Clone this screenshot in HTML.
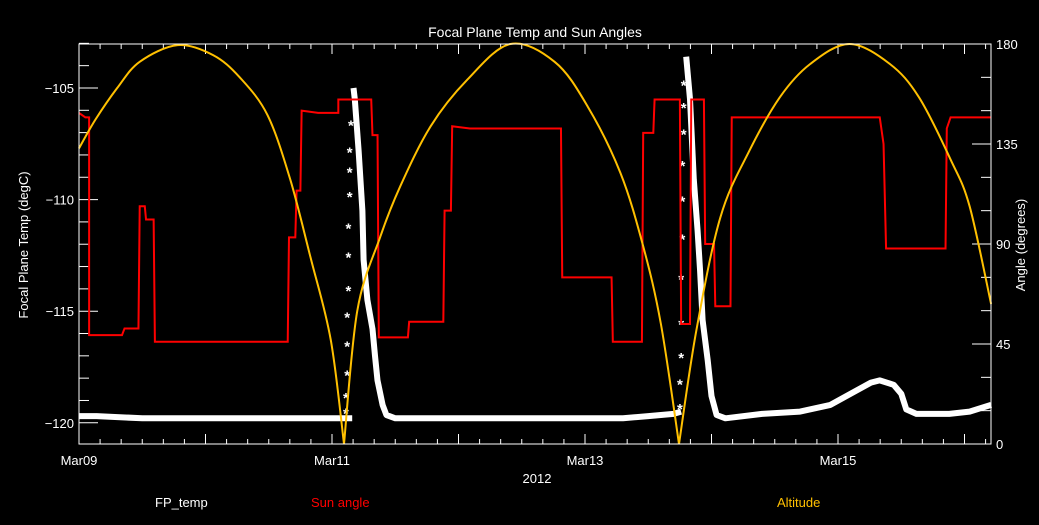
<!DOCTYPE html>
<html><head><meta charset="utf-8"><style>
html,body{margin:0;padding:0;background:#000;}
svg{display:block;font-family:"Liberation Sans",sans-serif;}
</style></head><body>
<svg id="chart" width="1039" height="525" viewBox="0 0 1039 525" xmlns="http://www.w3.org/2000/svg">
<rect width="1039" height="525" fill="#000"/>
<text x="535" y="37" fill="#fff" font-size="14" text-anchor="middle">Focal Plane Temp and Sun Angles</text>
<text x="537" y="483" fill="#fff" font-size="13" text-anchor="middle">2012</text>
<text transform="translate(28,245) rotate(-90)" fill="#fff" font-size="13" text-anchor="middle">Focal Plane Temp (degC)</text>
<text transform="translate(1025,245) rotate(-90)" fill="#fff" font-size="13" text-anchor="middle">Angle (degrees)</text>
<text x="155" y="507" fill="#fff" font-size="13">FP_temp</text>
<text x="311" y="507" fill="#ff0000" font-size="13">Sun angle</text>
<text x="777" y="507" fill="#ffc000" font-size="13">Altitude</text>
<g id="axes"></g>
<g id="series"></g>
<rect x="79" y="44" width="912" height="400" fill="none" stroke="#fff" stroke-width="1"/>
</svg>
<script>
const xTickDays = [0, 2, 4, 6];
const xTickLabels = ["Mar09", "Mar11", "Mar13", "Mar15"];
const yTicks = [-120, -115, -110, -105];
const y2Ticks = [0, 45, 90, 135, 180];
// Sun angle (red) : day offsets from Mar09 and degrees
const sunDays = [0,0.05,0.08,0.08,0.34,0.36,0.47,0.48,0.52,0.53,0.59,0.60,1.65,1.66,1.71,1.72,1.75,1.76,1.89,2.05,2.05,2.31,2.32,2.36,2.37,2.60,2.61,2.88,2.89,2.94,2.95,3.09,3.81,3.82,4.21,4.22,4.45,4.46,4.54,4.55,4.75,4.76,4.83,4.84,4.94,4.95,5.02,5.03,5.15,5.16,6.33,6.36,6.38,6.85,6.86,6.89,7.21];
const sunDeg = [149,147,147,49,49,52,52,107,107,101,101,46,46,93,93,114,114,150,149,149,155,155,139,139,48,48,55,55,105,105,143,142,142,75,75,46,46,140,140,155,155,54,54,155,155,90,90,62,62,147,147,135,88,88,142,147,147];
// Altitude (orange)
const altDays = [0,0.13,0.30,0.48,0.78,1.06,1.27,1.49,1.67,1.83,1.99,2.095,2.20,2.38,2.54,2.78,3.07,3.41,3.76,4.02,4.28,4.46,4.60,4.743,4.88,5.07,5.30,5.54,5.78,6.09,6.41,6.64,6.89,7.04,7.21];
const altDeg = [133,146,160,172,179.5,175,165,148,119,84,47,0,60,93,116,143,164,180,172,152,122,89,54,0,51,102,132,156,171,180,171,156,128,107,63];
// FP temp (white), left axis
const fpDays = [0,0.14,0.5,1.0,1.5,2.0,2.16,2.17,2.18,2.21,2.24,2.25,2.28,2.32,2.34,2.36,2.40,2.43,2.5,3.0,3.5,4.0,4.3,4.5,4.7,4.76,4.80,4.83,4.86,4.89,4.91,4.93,4.97,5.00,5.04,5.11,5.4,5.7,5.94,6.1,6.26,6.33,6.44,6.5,6.54,6.62,6.88,7.04,7.21];
const fpTemp = [-119.7,-119.7,-119.8,-119.8,-119.8,-119.8,-119.8,-105.0,-105.5,-107.8,-110.5,-112.7,-114.5,-115.8,-117.0,-118.1,-119.2,-119.65,-119.8,-119.8,-119.8,-119.8,-119.8,-119.7,-119.6,-119.5,-103.6,-105.5,-109.1,-111.4,-113.2,-115.4,-117.2,-118.8,-119.65,-119.8,-119.6,-119.5,-119.2,-118.7,-118.2,-118.1,-118.3,-118.7,-119.4,-119.6,-119.6,-119.5,-119.2];
// sparse rising stars (before each spike)
const starDays = [2.11,2.11,2.12,2.12,2.12,2.13,2.13,2.13,2.14,2.14,2.14,2.15,4.75,4.75,4.76,4.76,4.76,4.77,4.77,4.77,4.78,4.78,4.78];
const starTemp = [-119.5,-118.8,-117.8,-116.5,-115.2,-114.0,-112.5,-111.2,-109.8,-108.7,-107.8,-106.6,-119.3,-118.2,-117.0,-115.5,-113.5,-111.7,-110.0,-108.4,-107.0,-105.8,-104.8];

const X0=79, X1=991, Y0=44, Y1=444, DAYS=(991-79)/126.5;
const xs = d => X0 + d/DAYS*(X1-X0);
const yT = t => Y1 - (t-(-120.95))/((-103.03)-(-120.95))*(Y1-Y0);
const yA = a => Y1 - a/180*(Y1-Y0);
const NS="http://www.w3.org/2000/svg";
const axes=document.getElementById('axes'), ser=document.getElementById('series');
function mk(tag, attrs, parent){const e=document.createElementNS(NS,tag);for(const k in attrs)e.setAttribute(k,attrs[k]);parent.appendChild(e);return e;}

for(let i=0;i*(1/6)<=DAYS+1e-6;i++){
  const d=i/6, x=xs(d), major=(i%6===0);
  const L=major?10:5;
  const t=mk('line',{x1:x,x2:x,y1:Y1,y2:Y1-L,stroke:'#fff'},axes);
  
  
  const t2=mk('line',{x1:x,x2:x,y1:Y0,y2:Y0+L,stroke:'#fff'},axes);
  
  
}
xTickDays.forEach((d,i)=>{
  const tx=mk('text',{x:xs(d),y:465,fill:'#fff','font-size':13,'text-anchor':'middle'},axes);
  tx.textContent=xTickLabels[i];
  
  
});
for(let v=-120;v<=-103;v++){
  const major=(v%5===0), y=yT(v);
  const t=mk('line',{x1:X0,x2:X0+(major?19:10),y1:y,y2:y,stroke:'#fff'},axes);
  
  
}
yTicks.forEach(v=>{
  const tx=mk('text',{x:74,y:yT(v)+5,fill:'#fff','font-size':13,'text-anchor':'end'},axes);
  tx.textContent='\u2212'+Math.abs(v);
  
  
});
for(let a=0;a<=180;a+=15){
  const major=(a%45===0), y=yA(a);
  const t=mk('line',{x1:X1,x2:X1-(major?19:10),y1:y,y2:y,stroke:'#fff'},axes);
  
  
}
y2Ticks.forEach(a=>{
  const tx=mk('text',{x:996,y:yA(a)+5,fill:'#fff','font-size':13},axes);
  tx.textContent=a;
  
  
});

let dfp='';
fpDays.forEach((d,i)=>{
  const cmd = (i===0 || fpTemp[i]-fpTemp[i-1] > 3) ? 'M' : 'L';
  dfp += cmd + xs(d).toFixed(1) + ',' + yT(fpTemp[i]).toFixed(1) + ' ';
});
const fp=mk('path',{d:dfp,fill:'none',stroke:'#fff','stroke-width':6,'stroke-linejoin':'round'},ser);


starDays.forEach((d,i)=>{
  const g=mk('text',{x:xs(d),y:yT(starTemp[i])+7,fill:'#fff','font-size':15,'font-weight':'bold','text-anchor':'middle'},ser);
  g.textContent='*';
  
  
});
const sun=mk('polyline',{points:sunDays.map((d,i)=>xs(d)+','+yA(sunDeg[i])).join(' '),fill:'none',stroke:'#ff0000','stroke-width':2},ser);


const P = altDays.map((d,i)=>[xs(d), yA(altDeg[i])]);
let dalt = 'M'+P[0][0]+','+P[0][1]+' ';
for(let i=0;i<P.length-1;i++){
  const cusp0 = altDeg[i]===0, cusp1 = altDeg[i+1]===0;
  const p0 = (i>0 && !cusp0) ? P[i-1] : P[i];
  const p1 = P[i], p2 = P[i+1];
  const p3 = (i+2<P.length && !cusp1) ? P[i+2] : P[i+1];
  const c1=[p1[0]+(p2[0]-p0[0])/6, p1[1]+(p2[1]-p0[1])/6];
  const c2=[p2[0]-(p3[0]-p1[0])/6, p2[1]-(p3[1]-p1[1])/6];
  dalt += 'C'+c1[0].toFixed(1)+','+c1[1].toFixed(1)+' '+c2[0].toFixed(1)+','+c2[1].toFixed(1)+' '+p2[0].toFixed(1)+','+p2[1].toFixed(1)+' ';
}
const alt=mk('path',{d:dalt,fill:'none',stroke:'#ffc000','stroke-width':2},ser);


</script>
</body></html>
